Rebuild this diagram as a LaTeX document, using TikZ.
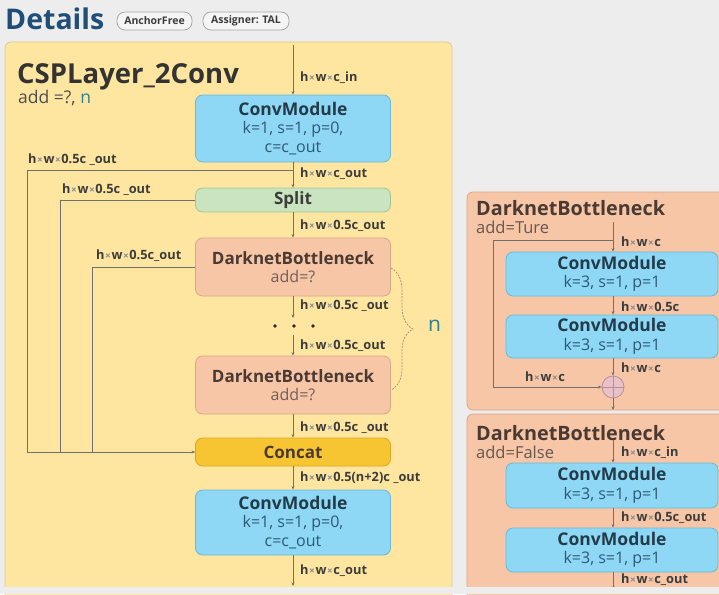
\documentclass[tikz,border=0pt]{standalone}
\usepackage{fontspec}
\setmainfont{Open Sans}
\usetikzlibrary{arrows.meta, decorations.pathreplacing}

\definecolor{bggray}{HTML}{EDEDED}
\definecolor{cspfill}{HTML}{FFE6A0}
\definecolor{cspdraw}{HTML}{E2C98A}
\definecolor{convfill}{HTML}{8ED8F6}
\definecolor{convdraw}{HTML}{6CB8D6}
\definecolor{convtitle}{HTML}{233B48}
\definecolor{convtext}{HTML}{2E5878}
\definecolor{splitfill}{HTML}{C9E4BE}
\definecolor{splitdraw}{HTML}{A3C597}
\definecolor{dbfill}{HTML}{F6C6A6}
\definecolor{dbdraw}{HTML}{D8A688}
\definecolor{dbtitle}{HTML}{4A3A33}
\definecolor{catfill}{HTML}{F7C531}
\definecolor{catdraw}{HTML}{D9A621}
\definecolor{linegray}{HTML}{707070}
\definecolor{lblgray}{HTML}{3C3C3C}
\definecolor{crossgray}{HTML}{8A8A8A}
\definecolor{detblue}{HTML}{1F4E79}
\definecolor{nteal}{HTML}{2B7F90}
\definecolor{plusfill}{HTML}{E9C2C9}
\definecolor{plusdraw}{HTML}{B98E98}

\newcommand{\tms}{{\color{crossgray}\fontsize{10}{10}\selectfont\kern0.6pt×\kern0.6pt}}

\begin{document}
\begin{tikzpicture}[x=1pt,y=-1pt,
			panel/.style={
				rectangle,
				draw=cspdraw,
				fill=cspfill,
				rounded corners=6pt,
				line width=0.8pt
			},
			conv/.style={
				rectangle,
				draw=convdraw,
				fill=convfill,
				rounded corners=7pt,
				line width=0.8pt,
				align=center,
				inner sep=0pt,
				text=convtext,
				font=\fontsize{16}{18.5}\selectfont
			},
			split/.style={
				conv,
				draw=splitdraw,
				fill=splitfill,
				text=lblgray
			},
			bneck/.style={
				conv,
				draw=dbdraw,
				fill=dbfill,
				text=dbtitle!80
			},
			concat/.style={
				conv,
				draw=catdraw,
				fill=catfill,
				text=dbtitle
			},
			tag/.style={
				rectangle,
				draw=gray!70,
				fill=gray!8,
				rounded corners=8pt,
				line width=0.8pt,
				minimum height=18pt,
				inner sep=0pt,
				text=lblgray,
				font=\fontsize{10.5}{10.5}\selectfont\bfseries
			},
			lbl/.style={
				anchor=west,
				inner sep=0pt,
				text=lblgray,
				font=\fontsize{12.8}{13}\selectfont\bfseries
			},
			arrow/.style={
				-{Stealth[length=3.5pt,width=3pt]},
				draw=linegray,
				line width=0.6pt
			},
			line/.style={
				draw=linegray,
				line width=0.6pt
			}
			]
			
			\useasboundingbox (0,0) rectangle (719,594);
			\fill [bggray] (0,0) rectangle (719,594);
			
			\node (details) [anchor=base west, inner sep=0pt, text=detblue, font=\fontsize{28.5}{29}\selectfont\bfseries] at (5,30) {Details};
			\node (anchorfree) [tag, minimum width=75pt] at (154.5,21) {AnchorFree};
			\node (assigner) [tag, minimum width=86pt] at (246,21) {Assigner: TAL};
			
			\draw [panel] (5,42) rectangle (452,610);
			\draw [panel, draw=dbdraw, fill=dbfill] (467,192) rectangle (735,410);
			\draw [panel, draw=dbdraw, fill=dbfill] (467,414) rectangle (735,610);
			
			\node (csptitle) [anchor=base west, inner sep=0pt, text=black!80, font=\fontsize{27.5}{28}\selectfont\bfseries] at (17,83) {CSPLayer\_2Conv};
			\node (cspadd) [anchor=base west, inner sep=0pt, text=black!70, font=\fontsize{17.5}{18}\selectfont] at (18,103) {add =?, {\color{nteal}n}};
			
			\coordinate (in) at (293,45);
			\node (conv1) [conv, minimum width=195pt, minimum height=67pt] at (293,128.5) {{\fontsize{17.5}{19}\selectfont\bfseries\color{convtitle}ConvModule}\\k=1, s=1, p=0,\\c=c\_out};
			\node (split) [split, minimum width=195pt, minimum height=24pt] at (293,200) {\fontsize{17}{19}\selectfont\bfseries Split};
			\node (db1) [bneck, minimum width=195pt, minimum height=58pt] at (293,267) {{\fontsize{17}{19}\selectfont\bfseries\color{dbtitle}DarknetBottleneck}\\add=?};
			\coordinate (dots1) at (293,318);
			\coordinate (dots2) at (293,335);
			\node (db2) [bneck, minimum width=195pt, minimum height=58pt] at (293,385) {{\fontsize{17}{19}\selectfont\bfseries\color{dbtitle}DarknetBottleneck}\\add=?};
			\node (concat) [concat, minimum width=195pt, minimum height=28pt] at (293,452) {\fontsize{17}{19}\selectfont\bfseries Concat};
			\node (conv2) [conv, minimum width=195pt, minimum height=65pt] at (293,522.5) {{\fontsize{17.5}{19}\selectfont\bfseries\color{convtitle}ConvModule}\\k=1, s=1, p=0,\\c=c\_out};
			\coordinate (out) at (293,586);
			
			\foreach \dx in {275,294,313}
				\fill [black!85] (\dx,326) circle (1.8pt);
			
			\draw [arrow] (in) -- (conv1);
			\draw [arrow] (conv1) -- (split);
			\draw [arrow] (split) -- (db1);
			\draw [arrow] (db1) -- (dots1);
			\draw [arrow] (dots2) -- (db2);
			\draw [arrow] (db2) -- (concat);
			\draw [arrow] (concat) -- (conv2);
			\draw [arrow] (conv2) -- (out);
			
			\coordinate (sp1) at (293,170);
			\coordinate (b1) at (27,452);
			\coordinate (b2) at (60,452);
			\coordinate (b3) at (92,452);
			\draw [arrow] (sp1) -| (b1) -- (concat.west);
			\draw [line] (split.west) -| (b2);
			\draw [line] (db1.west) -| (b3);
			
			\node (lin) [lbl] at (300,78) {h\tms w\tms c\_in};
			\node (lc1) [lbl] at (300,174) {h\tms w\tms c\_out};
			\node (lsp) [lbl] at (300,226) {h\tms w\tms 0.5c\_out};
			\node (ld1) [lbl] at (300,306) {h\tms w\tms 0.5c \_out};
			\node (ld2) [lbl] at (300,346) {h\tms w\tms 0.5c\_out};
			\node (ldb) [lbl] at (300,428) {h\tms w\tms 0.5c \_out};
			\node (lcat) [lbl] at (300,478) {h\tms w\tms 0.5(n+2)c \_out};
			\node (lout) [lbl] at (300,571) {h\tms w\tms c\_out};
			\node (lb1) [lbl] at (28,160) {h\tms w\tms 0.5c \_out};
			\node (lb2) [lbl] at (62,190) {h\tms w\tms 0.5c \_out};
			\node (lb3) [lbl] at (96,256) {h\tms w\tms 0.5c\_out};
			
			\draw [decorate, decoration={brace, amplitude=22pt, aspect=0.5}, draw=dbdraw!80!black, line width=0.7pt, dash pattern=on 2pt off 1.2pt] (391,268) -- (391,390);
			\node (nrep) [anchor=west, inner sep=0pt, text=nteal, font=\fontsize{21}{21}\selectfont] at (428,326) {n};
			
			\node (dbttitle) [anchor=base west, inner sep=0pt, text=dbtitle, font=\fontsize{19.8}{20}\selectfont\bfseries] at (476,215) {DarknetBottleneck};
			\node (dbtadd) [anchor=base west, inner sep=0pt, text=dbtitle!85, font=\fontsize{16.5}{17}\selectfont] at (476,233) {add=Ture};
			\coordinate (tin) at (613,222);
			\coordinate (tsp) at (613,240);
			\node (tconv1) [conv, minimum width=212pt, minimum height=44pt] at (612,274) {{\fontsize{17.5}{19}\selectfont\bfseries\color{convtitle}ConvModule}\\k=3, s=1, p=1};
			\node (tconv2) [conv, minimum width=212pt, minimum height=43pt] at (612,336.5) {{\fontsize{17.5}{19}\selectfont\bfseries\color{convtitle}ConvModule}\\k=3, s=1, p=1};
			\node (plus) [circle, draw=plusdraw, fill=plusfill, line width=0.8pt, minimum size=22pt, inner sep=0pt] at (613,387) {};
			\draw [plusdraw, line width=0.8pt] (plus.north) -- (plus.south) (plus.west) -- (plus.east);
			\coordinate (tout) at (613,410);
			\coordinate (tb) at (493,387);
			\draw [arrow] (tin) -- (tconv1.north -| tin);
			\draw [arrow] (tconv1.south -| tin) -- (tconv2.north -| tin);
			\draw [arrow] (tconv2.south -| tin) -- (plus);
			\draw [arrow] (plus) -- (tout);
			\draw [arrow] (tsp) -| (tb) -- (plus.west);
			\node (ltin) [lbl] at (621,242) {h\tms w\tms c};
			\node (ltmid) [lbl] at (621,307) {h\tms w\tms 0.5c};
			\node (ltout) [lbl] at (621,368) {h\tms w\tms c};
			\node (ltby) [lbl] at (525,377) {h\tms w\tms c};
			
			\node (dbftitle) [anchor=base west, inner sep=0pt, text=dbtitle, font=\fontsize{19.8}{20}\selectfont\bfseries] at (476,440) {DarknetBottleneck};
			\node (dbfadd) [anchor=base west, inner sep=0pt, text=dbtitle!85, font=\fontsize{16.5}{17}\selectfont] at (476,458) {add=False};
			\coordinate (fin) at (613,440);
			\node (fconv1) [conv, minimum width=212pt, minimum height=45pt] at (612,485.5) {{\fontsize{17.5}{19}\selectfont\bfseries\color{convtitle}ConvModule}\\k=3, s=1, p=1};
			\node (fconv2) [conv, minimum width=212pt, minimum height=44pt] at (612,550) {{\fontsize{17.5}{19}\selectfont\bfseries\color{convtitle}ConvModule}\\k=3, s=1, p=1};
			\coordinate (fout) at (613,590);
			\draw [arrow] (fin) -- (fconv1.north -| fin);
			\draw [arrow] (fconv1.south -| fin) -- (fconv2.north -| fin);
			\draw [arrow] (fconv2.south -| fin) -- (fout);
			\node (lfin) [lbl] at (621,453) {h\tms w\tms c\_in};
			\node (lfmid) [lbl] at (621,518) {h\tms w\tms 0.5c\_out};
			\node (lfout) [lbl] at (621,580) {h\tms w\tms c\_out};
			
			\fill [bggray] (0,587) rectangle (719,594);
			
		\end{tikzpicture}
\end{document}
